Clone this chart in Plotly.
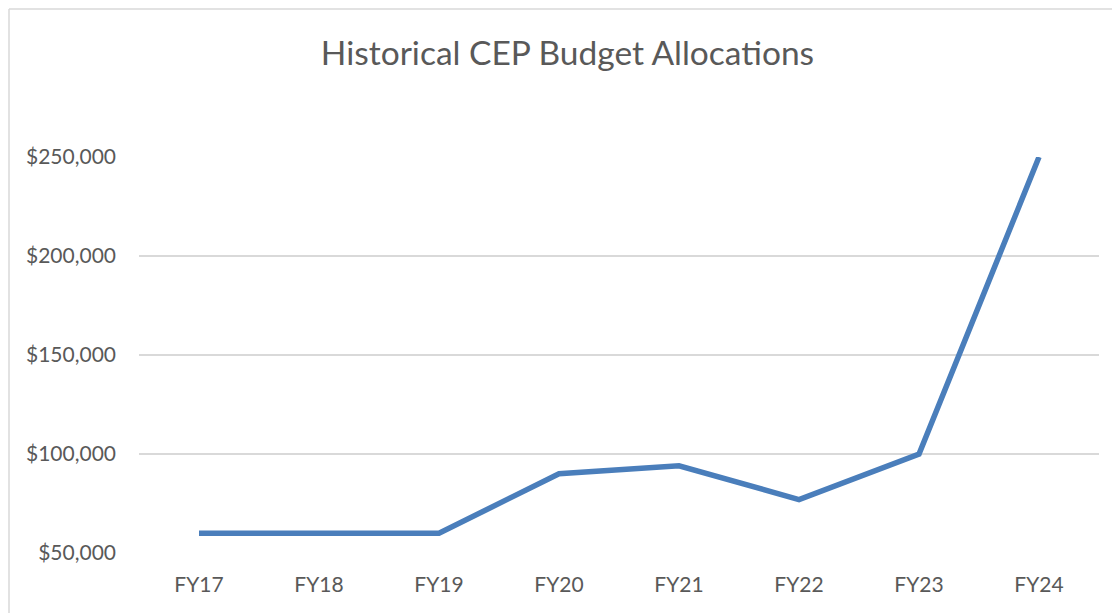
import plotly.graph_objects as go

categories = ["FY17", "FY18", "FY19", "FY20", "FY21", "FY22", "FY23", "FY24"]
budget = [60000, 60000, 60000, 90000, 94000, 77000, 100000, 250000]
y_ticks = [50000, 100000, 150000, 200000, 250000]
y_tick_labels = ["$50,000", "$100,000", "$150,000", "$200,000", "$250,000"]
title_text = "Historical CEP Budget Allocations"

# page body has an 8px margin, so figure coordinates are page coordinates minus 8
OFF = 8
W, H = 1120, 613
L, R, T, B = 139 - OFF, W - (1099 - OFF), 157 - OFF, H - (553 - OFF)
pw, ph = W - L - R, H - T - B

fig = go.Figure()
fig.add_trace(go.Scatter(
    x=categories, y=budget, mode="lines",
    line=dict(color="#4A7EBB", width=5.5),
    hoverinfo="x+y",
))

fig.update_layout(
    width=W, height=H,
    margin=dict(l=L, r=R, t=T, b=B),
    paper_bgcolor="white", plot_bgcolor="white",
    font=dict(family="Lato, Open Sans, sans-serif", color="#595959"),
    title=dict(text=title_text, x=(567.5 - OFF) / W, xref="container", xanchor="center",
               y=1 - (53 - OFF) / H, yref="container", yanchor="middle",
               font=dict(size=33.5, color="#595959", family="Lato, Open Sans, sans-serif",
                         weight=400)),
    showlegend=False,
    xaxis=dict(type="category", range=[-0.5, 7.5], showgrid=False, showline=False,
               ticks="", tickfont=dict(size=21), ticklabelstandoff=17, zeroline=False),
    yaxis=dict(range=[50000, 250000], tickvals=y_ticks, ticktext=y_tick_labels,
               showgrid=True, gridcolor="#D9D9D9", gridwidth=1.5, zeroline=False,
               showline=False, ticks="", tickfont=dict(size=21), ticklabelstandoff=22),
    shapes=[
        dict(type="line", xref="paper", yref="paper",
             x0=(1 - L) / pw, x1=(W + 5 - L) / pw, y0=(H - B - 1) / ph, y1=(H - B - 1) / ph,
             line=dict(color="#D9D9D9", width=1.5)),
        dict(type="line", xref="paper", yref="paper",
             x0=(1 - L) / pw, x1=(1 - L) / pw, y0=(H - B - 1) / ph, y1=(-B - 10) / ph,
             line=dict(color="#D9D9D9", width=1.5)),
    ],
)

fig.write_html("out.html")
